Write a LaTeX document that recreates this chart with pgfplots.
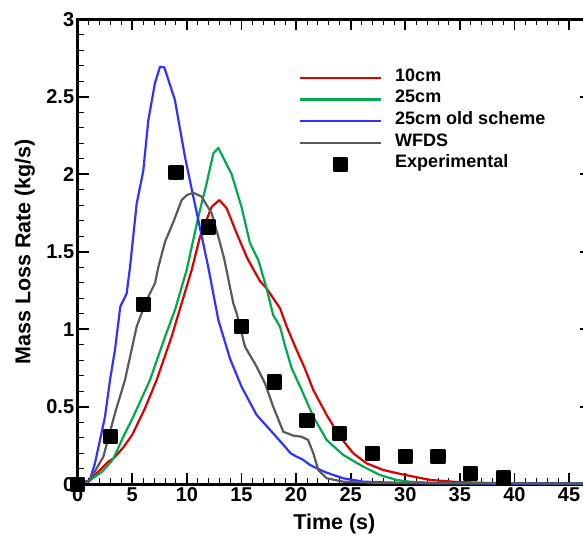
\documentclass[border=0pt]{standalone}
\usepackage{pgfplots}
\pgfplotsset{compat=1.18}
\usepackage{fontspec}
\setmainfont{Liberation Sans}
\definecolor{cred}{RGB}{220,0,0}
\definecolor{cgreen}{RGB}{0,168,80}
\definecolor{cblue}{RGB}{50,50,255}
\definecolor{cgray}{RGB}{90,90,90}
\begin{document}
\begin{tikzpicture}
\begin{axis}[name=ax,
  scale only axis, width=513.2pt, height=465pt,
  xmin=0, xmax=47, ymin=0, ymax=3,
  xtick={0,5,...,45}, ytick={0,0.5,...,3},
  minor x tick num=4, minor y tick num=4,
  tick align=inside, major tick length=11pt, minor tick length=6pt,
  axis line style={line width=2.6pt},
  major tick style={line width=1.8pt, black},
  minor tick style={line width=1pt, black},
  ticklabel style={font=\fontsize{20}{20}\selectfont\bfseries},
  /pgf/number format/assume math mode=true,
  xlabel={Time (s)}, ylabel={Mass Loss Rate (kg/s)},
  label style={font=\fontsize{21.5}{21.5}\selectfont\bfseries},
  xlabel style={at={(axis description cs:0.5,0)}, anchor=south, yshift=-50.2pt, inner sep=0pt},
  ylabel style={at={(axis description cs:0,0.5)}, anchor=south, yshift=42.5pt, inner sep=0pt},
  clip=false,
  legend cell align=left,
  legend image code/.code={\draw[mark repeat=2,mark phase=2,#1] plot coordinates {(0pt,0pt) (40.5pt,0pt) (81pt,0pt)};},
  legend style={at={(axis cs:20.27,2.692)}, anchor=north west, draw=none, fill=none,
    inner sep=0pt, outer sep=0pt, column sep=13pt,
    font=\fontsize{18}{18}\selectfont\bfseries,
    nodes={inner sep=0pt, text height=14pt, text depth=7.7pt}},
  every axis plot/.append style={line width=2.2pt, line join=round},
]
\addplot[cred, mark=none] table {
0 0
1.1 0.025
2.0 0.09
2.8 0.146
3.3 0.168
4.2 0.24
5.0 0.32
6.16 0.49
7.23 0.673
8.6 0.952
9.52 1.168
10.44 1.383
11.2 1.597
12.27 1.79
12.97 1.834
13.64 1.781
14.56 1.619
15.47 1.468
15.78 1.426
16.7 1.31
17.3 1.264
18.53 1.135
19.14 1.017
20.05 0.866
20.8 0.748
21.58 0.608
22.8 0.447
24.02 0.307
25.24 0.20
26.46 0.135
27.99 0.092
29.8 0.063
32.3 0.028
34.7 0.015
38 0.008
47 0.005
};
\addlegendentry{10cm}
\addplot[cgreen, mark=none] table {
0 0
1.1 0.025
2.2 0.08
3.0 0.14
3.3 0.17
4.18 0.307
5.09 0.436
5.86 0.555
6.62 0.673
7.1 0.77
8.0 0.952
8.91 1.125
9.98 1.383
11.05 1.726
11.8 1.94
12.42 2.135
12.88 2.17
14.1 2.0
15.0 1.79
15.78 1.555
16.54 1.447
17.3 1.264
17.9 1.092
18.53 1.017
19.0 0.89
19.6 0.748
20.51 0.608
21.58 0.436
22.8 0.286
24.32 0.189
26.15 0.114
27.68 0.06
29.2 0.028
30.4 0.017
33 0.008
47 0.005
};
\addlegendentry{25cm}
\addplot[cblue, mark=none] table {
0 0
1.1 0.025
1.58 0.135
2.5 0.436
2.96 0.673
3.42 0.87
3.9 1.146
4.48 1.23
4.79 1.40
5.4 1.81
6.0 2.02
6.47 2.35
7.08 2.59
7.54 2.694
7.93 2.69
8.9 2.48
9.83 2.11
10.59 1.855
11.96 1.40
12.88 1.06
13.95 0.81
15.0 0.63
16.39 0.447
17.9 0.329
18.98 0.243
19.5 0.20
20.05 0.178
20.6 0.16
21.27 0.125
22.0 0.10
22.8 0.075
24.3 0.039
26.2 0.017
30 0.008
35 0.006
47 0.005
};
\addlegendentry{25cm old scheme}
\addplot[cgray, mark=none] table {
0 0
1.1 0.025
2.35 0.178
3.42 0.46
4.33 0.673
5.4 1.017
6.32 1.19
7.08 1.297
7.38 1.40
8.0 1.565
8.75 1.69
9.52 1.834
10.0 1.866
10.59 1.881
11.35 1.856
12.27 1.748
12.88 1.597
13.4 1.46
14.25 1.168
14.56 1.103
15.32 0.888
16.39 0.759
17.15 0.652
17.91 0.50
18.83 0.339
19.74 0.314
20.5 0.307
21.1 0.286
21.58 0.20
22.03 0.092
22.8 0.039
24.3 0.017
28 0.008
47 0.005
};
\addlegendentry{WFDS}
\addplot[only marks, mark=square*, mark size=6.5pt, black, mark options={draw=none, fill=black}] table {
0 0
3 0.31
6 1.16
9 2.01
12 1.66
15 1.02
18 0.66
21 0.41
24 0.33
27 0.20
30 0.18
33 0.18
36 0.07
39 0.04
};
\addlegendentry{Experimental}
\end{axis}
\pgfresetboundingbox
\path[use as bounding box] (ax.south west) ++(-77.7pt,-52.7pt) rectangle ++(583pt,537pt);
\end{tikzpicture}
\end{document}
